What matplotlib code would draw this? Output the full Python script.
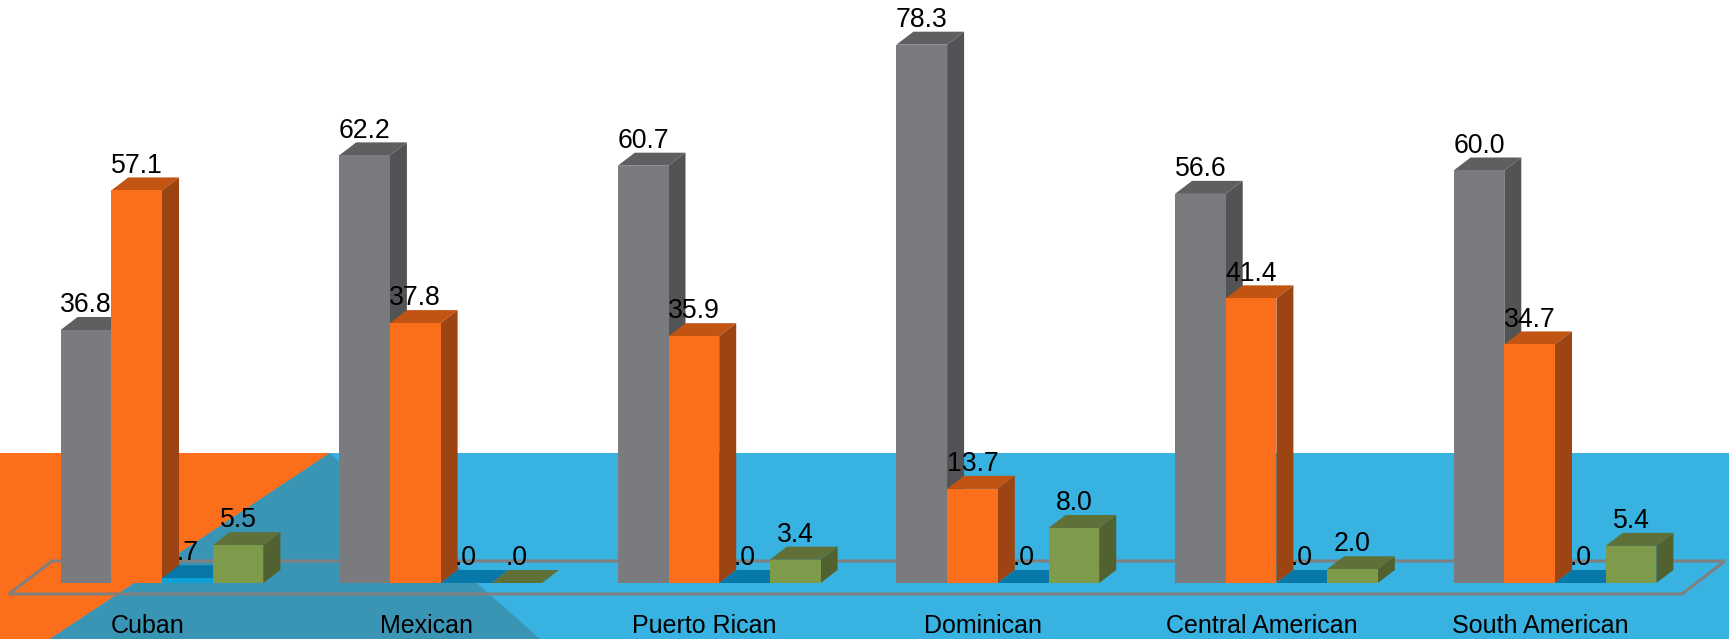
import matplotlib
matplotlib.use("Agg")
import matplotlib.pyplot as plt
from matplotlib.patches import Polygon

plt.rcParams['font.family'] = ['Liberation Sans', 'DejaVu Sans']

categories = ["Cuban", "Mexican", "Puerto Rican", "Dominican", "Central American", "South American"]
gray_vals = [36.8, 62.2, 60.7, 78.3, 56.6, 60.0]
orange_vals = [57.1, 37.8, 35.9, 13.7, 41.4, 34.7]
blue_vals = [0.7, 0.0, 0.0, 0.0, 0.0, 0.0]
green_vals = [5.5, 0.0, 3.4, 8.0, 2.0, 5.4]

W, H = 1729, 639
fig = plt.figure(figsize=(W / 100, H / 100), dpi=100, facecolor='white')

# background shapes, in pixels
bg = fig.add_axes([0, 0, 1, 1])
bg.set_xlim(0, W)
bg.set_ylim(H, 0)
bg.axis('off')
bg.add_patch(Polygon([(0, 453), (W, 453), (W, H), (0, H)], fc='#38B2E0', ec='none'))
bg.add_patch(Polygon([(0, 453), (330, 453), (50, H), (0, H)], fc='#FA6E1C', ec='none'))
bg.add_patch(Polygon([(330, 453), (540, H), (50, H)], fc='#3A95B5', ec='none'))
bg.add_patch(Polygon([(9, 594), (52, 561), (1725, 561), (1682, 594)], fc='none', ec='#808080', lw=2.2))

# chart axes: x in categories, y in percent
px_x = 278.6
px_y = 6.875
base = 583
ax = fig.add_axes([0, 0, 1, 1], facecolor='none')
ax.set_xlim(-162 / px_x, (W - 162) / px_x)
ax.set_ylim(-(H - base) / px_y, base / px_y)
ax.axis('off')

bw = 50.7 / px_x
dx = 17 / px_x
dy = 13 / px_y

series = [
    (gray_vals, -1.5, '#7A7B7E', '#5E5F61', '#525355'),
    (orange_vals, -0.5, '#FA6E1C', '#C25413', '#9C4412'),
    (blue_vals, 0.5, '#0AA0D8', '#0878A8', '#06688F'),
    (green_vals, 1.5, '#7E9B4B', '#5F7138', '#526130'),
]

z = 3
for vals, off, front, top, side in series:
    for i, v in enumerate(vals):
        x = i + off * bw
        l, r = x - bw / 2, x + bw / 2
        ax.add_patch(Polygon([(l, v), (r, v), (r + dx, v + dy), (l + dx, v + dy)],
                             fc=top, ec='none', zorder=z))
        if v > 0:
            ax.add_patch(Polygon([(r, 0), (r + dx, dy), (r + dx, v + dy), (r, v)],
                                 fc=side, ec='none', zorder=z))
            ax.bar(x, v, width=bw, color=front, zorder=z + 0.1)
        # number format has no leading zero
        ax.text(x, v + dy + 0.7, f"{v:.1f}".lstrip('0'), ha='center', va='baseline',
                fontsize=19.2, color='#000000', zorder=20)
    z += 1

for i, name in enumerate(categories):
    ax.text(i - 14.5 / px_x, -50 / px_y, name, ha='center', va='baseline',
            fontsize=18, color='#000000', zorder=20)

fig.savefig("out.png", dpi=100)
